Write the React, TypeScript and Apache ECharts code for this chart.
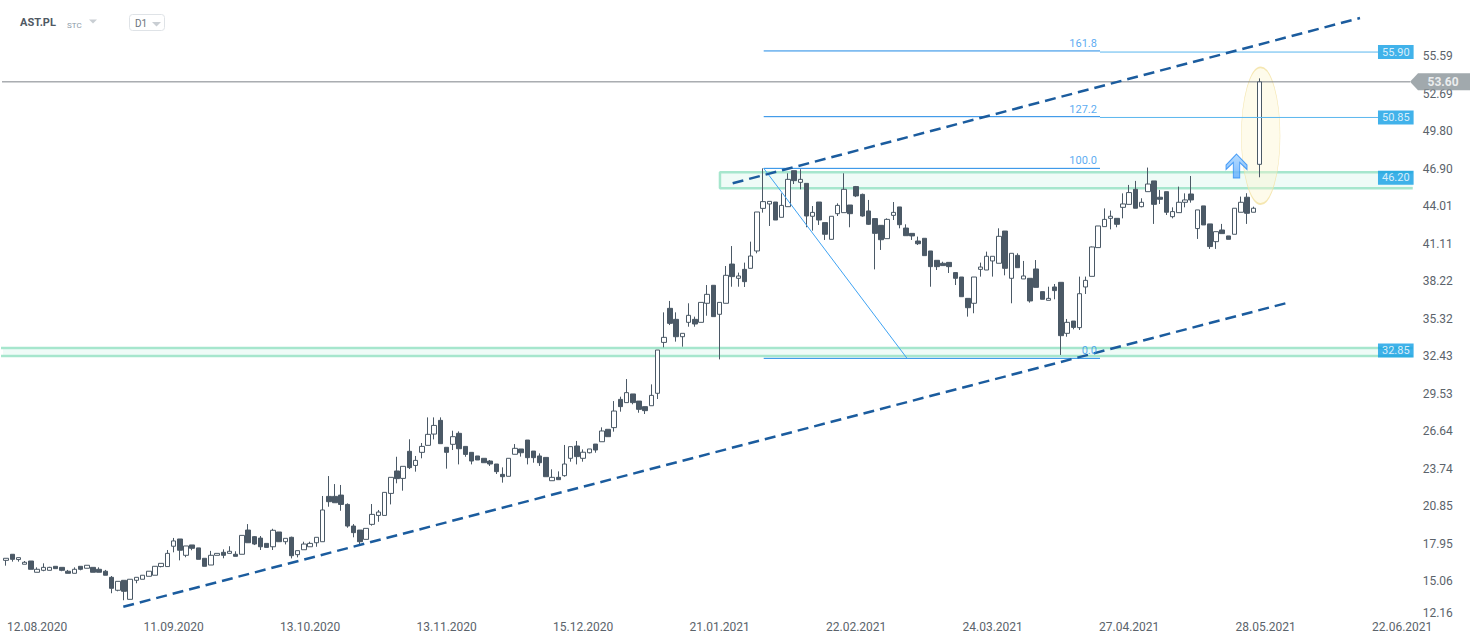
import React, { useEffect, useRef } from "react";
import * as echarts from "echarts";

// ---------- DATA ----------
const opens = [
  16.65, 17.12, 16.71, 16.35, 16.6, 15.73, 15.88, 15.88, 16.19, 16.11,
  15.81, 15.65, 16.19, 16.04, 16.11, 15.96, 15.81, 15.34, 14.34, 15.11,
  13.64, 15.11, 15.19, 15.42, 15.5, 16.17, 16.17, 17.74, 18.3, 17.04,
  17.84, 17.61, 16.81, 16.29, 17.04, 17.27, 17.19, 17.12, 17.12, 18.99,
  18.48, 18.37, 17.96, 17.7, 18.84, 18.09, 18.43, 17.09, 17.47, 17.7,
  18.01, 18.09, 21.59, 21.59, 21.69, 20.97, 19.3, 18.99, 18.27, 19.43,
  20.12, 20.12, 21.82, 23.55, 22.98, 25.07, 23.98, 24.99, 25.53, 26.4,
  27.46, 25.38, 25.61, 26.46, 25.45, 24.99, 24.71, 24.53, 24.32, 24.09,
  23.29, 23.14, 24.84, 25.25, 25.94, 25.09, 24.71, 24.6, 22.8, 23.06,
  23.19, 24.53, 25.48, 24.53, 24.96, 25.63, 25.81, 26.77, 26.9, 29.08,
  28.83, 29.5, 28.95, 28.52, 28.59, 29.55, 33.48, 36.11, 35.26, 33.92,
  35.03, 35.26, 35.03, 36.5, 37.89, 35.65, 36.5, 39.53, 38.43, 39.12,
  39.2, 40.54, 43.83, 44.17, 44.32, 43.14, 43.96, 46.74, 45.84, 45.76,
  43.22, 44.32, 42.73, 41.44, 43.42, 43.5, 44.09, 45.51, 44.91, 43.63,
  43.04, 42.52, 41.49, 43.29, 43.94, 42.31, 41.9, 41.31, 41.52, 40.54,
  39.82, 39.59, 39.66, 38.87, 38.53, 36.88, 36.5, 39.12, 39.07, 39.77,
  39.59, 42.08, 38.43, 40.2, 38.38, 38.43, 39.15, 37.4, 36.73, 37.76,
  38.12, 34.18, 35.13, 34.62, 37.76, 38.58, 40.8, 42.42, 43.06, 43.06,
  43.91, 44.14, 45.3, 43.96, 45.12, 45.95, 44.69, 45.12, 43.19, 43.5,
  44.3, 44.94, 42.27, 44.02, 42.63, 41.26, 42.16, 41.7, 41.83, 43.53,
  44.69, 43.53, 47.23,
];
const closes = [
  16.81, 16.73, 16.86, 16.5, 15.96, 15.96, 16.11, 16.11, 16.01, 15.88,
  15.65, 15.96, 15.96, 16.27, 15.73, 15.73, 15.5, 14.49, 15.03, 14.26,
  15.19, 15.34, 15.5, 15.81, 16.19, 16.42, 17.19, 18.15, 17.43, 17.76,
  17.58, 16.73, 16.19, 17.04, 17.19, 17.04, 17.35, 16.96, 18.58, 18.01,
  17.91, 17.7, 17.65, 18.97, 18.09, 18.35, 17.01, 17.4, 17.91, 17.96,
  18.43, 20.54, 21.18, 21.1, 20.97, 19.3, 18.79, 18.09, 19.12, 20.2,
  20.38, 21.9, 23.06, 22.96, 23.91, 23.81, 24.37, 25.45, 26.38, 27.07,
  25.66, 24.99, 26.2, 25.27, 24.83, 24.32, 24.4, 24.19, 24.09, 23.5,
  23.11, 24.53, 25.3, 24.96, 24.58, 24.58, 24.19, 23.11, 23.06, 22.88,
  24.09, 25.43, 24.66, 25.0, 25.25, 25.17, 26.64, 26.2, 28.18, 28.52,
  29.6, 28.83, 28.31, 28.21, 29.39, 32.89, 33.87, 34.95, 33.92, 34.18,
  35.57, 34.9, 36.57, 37.19, 35.47, 36.57, 38.66, 38.56, 38.61, 38.17,
  40.15, 43.55, 44.35, 44.37, 42.93, 44.06, 46.07, 45.97, 46.07, 43.24,
  43.52, 42.93, 41.83, 43.22, 44.06, 45.3, 43.42, 44.79, 43.24, 42.6,
  41.9, 41.41, 42.98, 43.52, 42.57, 41.72, 41.7, 41.1, 40.18, 39.33,
  39.33, 39.41, 39.33, 38.43, 37.01, 36.16, 38.53, 39.3, 40.13, 40.13,
  41.67, 39.2, 40.36, 39.25, 38.61, 36.68, 37.73, 36.81, 36.88, 37.48,
  34.0, 35.03, 34.64, 37.24, 38.27, 40.85, 42.47, 42.98, 43.22, 42.6,
  44.17, 45.05, 43.84, 44.3, 45.71, 44.14, 44.53, 43.53, 43.58, 44.3,
  44.48, 44.48, 43.71, 42.55, 40.88, 42.03, 41.88, 41.44, 43.84, 44.3,
  43.45, 43.84, 53.6,
];
const lows = [
  16.24, 16.55, 16.55, 16.35, 15.96, 15.73, 15.81, 15.88, 16.01, 15.81,
  15.65, 15.65, 15.88, 16.04, 15.73, 15.73, 15.5, 14.11, 14.26, 13.57,
  13.64, 14.88, 15.19, 15.42, 15.5, 16.11, 16.17, 17.27, 16.65, 16.89,
  17.43, 16.73, 16.19, 16.29, 17.04, 16.81, 17.19, 16.96, 17.12, 18.01,
  17.83, 17.45, 17.65, 17.45, 18.09, 17.88, 16.8, 16.88, 17.47, 17.7,
  17.7, 18.09, 20.79, 21.1, 20.48, 19.17, 18.43, 17.83, 18.27, 19.33,
  19.63, 20.12, 20.97, 22.6, 22.03, 23.7, 23.5, 24.53, 25.53, 25.99,
  25.66, 23.73, 25.17, 24.06, 24.65, 24.06, 24.4, 24.19, 23.94, 23.32,
  22.65, 23.14, 24.84, 24.66, 24.06, 24.19, 23.94, 23.11, 22.8, 22.88,
  23.11, 24.27, 24.06, 24.27, 24.91, 24.96, 25.81, 26.2, 26.59, 28.13,
  28.83, 28.7, 28.05, 27.95, 28.59, 29.11, 33.1, 34.82, 33.54, 33.15,
  34.69, 34.69, 35.03, 35.54, 35.47, 32.17, 36.5, 37.78, 37.78, 37.76,
  39.2, 40.36, 43.5, 42.47, 42.93, 43.14, 43.96, 45.71, 45.3, 42.37,
  42.11, 42.55, 41.39, 41.44, 43.24, 43.5, 42.37, 44.7, 43.19, 42.55,
  39.12, 40.62, 41.49, 42.93, 42.29, 41.72, 41.39, 41.0, 40.18, 37.78,
  39.07, 39.41, 38.84, 37.91, 37.01, 35.47, 35.73, 38.56, 39.07, 38.56,
  39.59, 38.66, 36.5, 39.25, 38.38, 36.55, 37.73, 36.81, 36.73, 36.81,
  32.51, 33.92, 34.49, 34.44, 37.22, 38.58, 40.8, 42.42, 42.21, 42.37,
  43.06, 44.14, 43.84, 43.91, 45.12, 42.63, 44.17, 43.32, 43.06, 43.5,
  43.91, 44.27, 41.47, 42.55, 40.7, 40.7, 41.88, 41.44, 41.83, 43.53,
  42.63, 43.53, 46.23,
];
const highs = [
  16.81, 17.12, 16.86, 16.6, 16.6, 16.11, 16.42, 16.15, 16.19, 16.11,
  15.91, 16.11, 16.19, 16.27, 16.11, 16.11, 15.91, 15.44, 15.03, 15.11,
  15.19, 15.34, 15.5, 15.81, 16.19, 16.42, 17.45, 18.38, 18.3, 17.76,
  17.84, 17.61, 16.81, 17.38, 17.19, 17.5, 17.74, 17.35, 18.58, 19.45,
  18.53, 18.53, 17.96, 19.09, 18.84, 18.35, 18.48, 17.4, 18.09, 18.09,
  18.43, 21.62, 23.16, 22.54, 22.47, 21.05, 19.45, 18.99, 19.12, 21.0,
  20.54, 21.9, 23.06, 24.65, 23.91, 26.0, 24.71, 25.71, 27.69, 27.69,
  27.69, 25.38, 26.66, 26.61, 25.45, 24.99, 24.71, 24.53, 24.4, 24.09,
  23.83, 24.53, 25.63, 25.25, 25.94, 25.09, 24.91, 24.6, 23.68, 23.52,
  25.56, 25.43, 25.87, 25.22, 25.25, 25.63, 26.92, 26.77, 28.95, 29.29,
  30.65, 29.5, 28.95, 28.52, 30.24, 32.89, 35.8, 36.68, 35.8, 34.18,
  36.5, 35.47, 36.57, 37.91, 37.91, 36.57, 39.38, 40.92, 38.87, 39.64,
  41.26, 43.55, 46.92, 44.37, 44.32, 44.99, 46.54, 46.74, 46.85, 45.76,
  44.01, 44.32, 42.73, 43.22, 44.22, 46.54, 44.09, 45.56, 44.97, 44.48,
  43.04, 42.52, 43.06, 44.32, 43.94, 42.6, 41.9, 41.65, 41.52, 40.54,
  39.82, 39.71, 39.66, 38.87, 38.53, 36.88, 38.53, 39.64, 40.49, 40.13,
  42.29, 42.08, 40.36, 40.36, 39.77, 38.43, 39.84, 37.4, 37.78, 37.99,
  38.12, 35.29, 35.13, 38.56, 38.56, 40.88, 42.47, 43.83, 43.66, 43.06,
  44.99, 45.64, 45.95, 44.61, 46.98, 45.95, 45.25, 45.12, 43.91, 45.51,
  44.99, 46.33, 43.71, 44.02, 42.63, 42.03, 42.63, 41.7, 43.84, 44.74,
  45.0, 43.96, 53.87,
];

const dateTicks = [
  "12.08.2020", "11.09.2020", "13.10.2020", "13.11.2020", "15.12.2020",
  "21.01.2021", "22.02.2021", "24.03.2021", "27.04.2021", "28.05.2021", "22.06.2021",
];
const firstTickSlot = 5;
const tickStep = 22;
const slotCount = 228;

const yTicks = [
  12.16, 15.06, 17.95, 20.85, 23.74, 26.64, 29.53, 32.43,
  35.32, 38.22, 41.11, 44.01, 46.9, 49.8, 52.69, 55.59,
];
const yMin = 12.16;
const yMax = 59.92;

// trend lines: [slot, price]
const upperTrend = [[117.1, 45.77], [218.2, 58.53]];
const lowerTrend = [[18.89, 13.07], [206.6, 36.55]];

// fibonacci extension
const fibLow = 32.25;
const fibHigh = 46.92;
const fibFromSlot = 122.1;
const fibToSlot = 176.3;
const fibDiagEndSlot = 145.2;
const fibLevels = [0, 100, 127.2, 161.8];
const fibNames = ["0.0", "100.0", "127.2", "161.8"];

// price levels
const levelLines = [55.9, 50.85];
const priceTags = [55.9, 50.85, 46.2, 32.85];
const lastPrice = 53.6;

// support / resistance zones: [fromSlot, toSlot, low, high]
const zones = [
  [115.05, 226.7, 45.38, 46.61],
  [-1.4, 226.7, 32.43, 33.05],
];

// annotations
const ellipseAt = [202.2, 49.44];
const arrowAt = [198.3, 47.1];

// ---------- CHART ----------
const FONT = "Roboto, 'Noto Sans', sans-serif";
const CANDLE = "#4b5966";

export default function App() {
  const ref = useRef<HTMLDivElement>(null);

  useEffect(() => {
    document.body.style.margin = "0";
    const chart = echarts.init(ref.current!, null, { renderer: "svg" });

    const candleData = opens.map((o, i) => [o, closes[i], lows[i], highs[i]]);
    const slots = Array.from({ length: slotCount }, (_, i) => String(i));
    const fibValue = (lvl: number) => fibLow + ((fibHigh - fibLow) * lvl) / 100;
    const tagSlot = 221.1;
    const lastSlot = 226.26;

    const lineBase = {
      type: "line",
      xAxisIndex: 1,
      yAxisIndex: 0,
      symbol: "none",
      showSymbol: false,
      silent: true,
      clip: false,
      animation: false,
    };

    const series: any[] = [
      {
        ...lineBase,
        name: "zones",
        data: [],
        z: 1,
        markArea: {
          silent: true,
          itemStyle: {
            color: "rgba(226,248,240,0.55)",
            borderWidth: 0,
          },
          data: zones.map((z) => [
            { coord: [Math.max(z[0], -0.5), z[3]] },
            { coord: [z[1], z[2]] },
          ]),
        },
      },
      ...zones.map((z) => ({
        ...lineBase,
        z: 1,
        data: [
          [z[1], z[3]],
          [z[0], z[3]],
          [z[0], z[2]],
          [z[1], z[2]],
        ],
        lineStyle: { color: "#a6e6cd", width: 2.5 },
      })),
      {
        type: "scatter",
        xAxisIndex: 1,
        yAxisIndex: 0,
        silent: true,
        clip: false,
        z: 1,
        symbol: "path://M0,50 A50,50 0 1,1 100,50 A50,50 0 1,1 0,50 Z",
        symbolKeepAspect: false,
        symbolSize: [38.6, 136.6],
        itemStyle: {
          color: "rgba(252,244,205,0.5)",
          borderColor: "#f2e1a0",
          borderWidth: 1,
        },
        data: [ellipseAt],
      },
      {
        type: "candlestick",
        xAxisIndex: 0,
        yAxisIndex: 0,
        data: candleData,
        barWidth: 5,
        z: 3,
        silent: true,
        itemStyle: {
          color: "#ffffff",
          color0: CANDLE,
          borderColor: CANDLE,
          borderColor0: CANDLE,
          borderWidth: 1,
        },
      },
      {
        ...lineBase,
        z: 2,
        data: [[-0.98, lastPrice], [lastSlot, lastPrice]],
        lineStyle: { color: "#7d8388", width: 1 },
      },
      ...fibLevels.map((lvl) => ({
        ...lineBase,
        z: 4,
        data: [[fibFromSlot, fibValue(lvl)], [fibToSlot, fibValue(lvl)]],
        lineStyle: { color: "#1e88e5", width: 1 },
      })),
      {
        ...lineBase,
        z: 4,
        data: [[fibFromSlot, fibHigh], [fibDiagEndSlot, fibLow]],
        lineStyle: { color: "#3fa3f3", width: 1 },
      },
      ...levelLines.map((v) => ({
        ...lineBase,
        z: 4,
        data: [[fibToSlot, v], [tagSlot, v]],
        lineStyle: { color: "#5ab6ee", width: 1 },
      })),
      {
        ...lineBase,
        z: 5,
        data: upperTrend,
        lineStyle: { color: "#1b5c9e", width: 2.5, type: [11, 6] },
      },
      {
        ...lineBase,
        z: 5,
        data: lowerTrend,
        lineStyle: { color: "#1b5c9e", width: 2.5, type: [11, 6] },
      },
      {
        type: "scatter",
        xAxisIndex: 1,
        yAxisIndex: 0,
        silent: true,
        clip: false,
        z: 6,
        symbolSize: 0,
        data: fibLevels.map((lvl, i) => [175.8, fibValue(lvl), fibNames[i]]),
        label: {
          show: true,
          position: "top",
          distance: 2,
          align: "right",
          color: "#2f95ee",
          fontSize: 11,
          fontFamily: FONT,
          formatter: (p: any) => p.value[2],
        },
      },
      {
        type: "scatter",
        xAxisIndex: 1,
        yAxisIndex: 0,
        silent: true,
        clip: false,
        z: 8,
        symbolSize: 0,
        data: priceTags.map((v) => [tagSlot, v]),
        label: {
          show: true,
          position: "right",
          distance: 0,
          color: "#ffffff",
          backgroundColor: "#129fe5",
          padding: [1, 4, 1, 4],
          lineHeight: 12,
          fontSize: 11,
          fontFamily: FONT,
          formatter: (p: any) => p.value[1].toFixed(2),
        },
      },
      {
        type: "scatter",
        xAxisIndex: 1,
        yAxisIndex: 0,
        silent: true,
        clip: false,
        z: 9,
        symbol: "path://M0,8.5 L8,0 L60,0 L60,17 L8,17 Z",
        symbolKeepAspect: false,
        symbolSize: [60, 17],
        symbolOffset: [30, 0],
        itemStyle: { color: "#8a9399" },
        data: [[lastSlot, lastPrice]],
        label: {
          show: true,
          position: "inside",
          offset: [3, 0],
          color: "#ffffff",
          fontWeight: "bold",
          fontSize: 12,
          fontFamily: FONT,
          formatter: (p: any) => p.value[1].toFixed(2),
        },
      },
      {
        type: "scatter",
        xAxisIndex: 1,
        yAxisIndex: 0,
        silent: true,
        clip: false,
        z: 7,
        symbol:
          "path://M10.5,0 L21,11 L21,15.5 L13.7,8.5 L13.7,24 L7.3,24 L7.3,8.5 L0,15.5 L0,11 Z",
        symbolKeepAspect: false,
        symbolSize: [21, 24],
        itemStyle: {
          color: new echarts.graphic.LinearGradient(0, 0, 0, 1, [
            { offset: 0, color: "#a6d4ff" },
            { offset: 1, color: "#5aa9ff" },
          ]),
          borderColor: "#2a8cf5",
          borderWidth: 1,
        },
        data: [arrowAt],
      },
    ];

    chart.setOption({
      animation: false,
      backgroundColor: "#ffffff",
      grid: { left: 3, right: 64.3, top: 0, bottom: 24.5, containLabel: false },
      xAxis: [
        {
          type: "category",
          data: slots,
          boundaryGap: true,
          axisLine: { show: false },
          axisTick: { show: false },
          splitLine: { show: false },
          axisLabel: {
            interval: (idx: number) =>
              idx >= firstTickSlot && (idx - firstTickSlot) % tickStep === 0,
            formatter: (_v: string, idx: number) =>
              dateTicks[(idx - firstTickSlot) / tickStep] ?? "",
            color: "#5b636b",
            fontSize: 12,
            fontFamily: FONT,
            margin: 2,
          },
        },
        {
          type: "value",
          min: -0.5,
          max: slotCount - 0.5,
          show: false,
        },
      ],
      yAxis: [
        {
          type: "value",
          position: "right",
          min: yMin,
          max: yMax,
          splitLine: { show: false },
          axisLine: { show: false },
          axisTick: { show: false },
          axisLabel: {
            customValues: yTicks,
            formatter: (v: number) => v.toFixed(2),
            color: "#5b636b",
            fontSize: 12,
            fontFamily: FONT,
            margin: 5,
            verticalAlignMinLabel: "bottom",
          },
        },
      ],
      graphic: [
        {
          type: "text",
          left: 20,
          top: 17,
          style: { text: "AST.PL", fill: "#4f5963", font: `bold 11px ${FONT}` },
        },
        {
          type: "text",
          left: 67,
          top: 21,
          style: { text: "STC", fill: "#8c9aa8", font: `8px ${FONT}` },
        },
        {
          type: "polygon",
          shape: { points: [[89, 19.5], [97, 19.5], [93, 23.5]] },
          style: { fill: "#c9ced3" },
        },
        {
          type: "rect",
          shape: { x: 129.5, y: 14.5, width: 35, height: 16, r: 3 },
          style: { fill: "#ffffff", stroke: "#dfe3e7", lineWidth: 1 },
        },
        {
          type: "text",
          left: 135,
          top: 18,
          style: { text: "D1", fill: "#6b747c", font: `10px ${FONT}` },
        },
        {
          type: "polygon",
          shape: { points: [[152, 22], [161, 22], [156.5, 26.5]] },
          style: { fill: "#c9ced3" },
        },
      ],
      series,
    });

    return () => chart.dispose();
  }, []);

  return <div ref={ref} style={{ width: 1482, height: 643 }} />;
}
